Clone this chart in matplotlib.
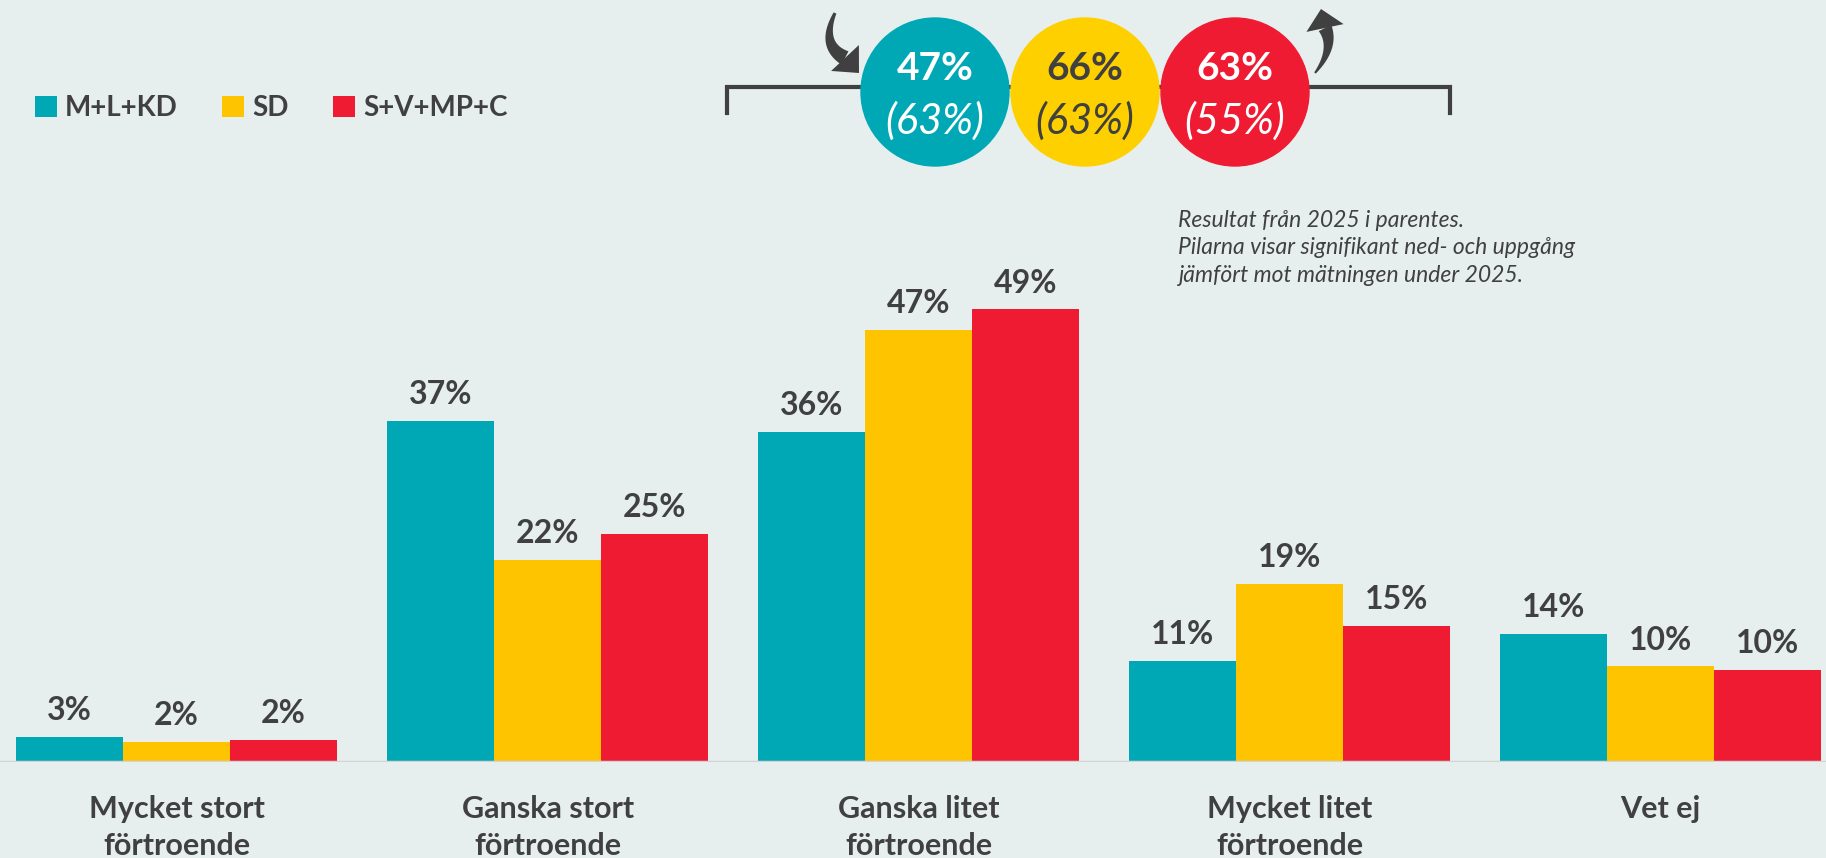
import matplotlib
matplotlib.use("Agg")
import matplotlib.pyplot as plt
import numpy as np
from matplotlib.patches import Circle, Polygon

plt.rcParams["font.family"] = ["Lato", "DejaVu Sans"]

categories = ["Mycket stort\nförtroende", "Ganska stort\nförtroende", "Ganska litet\nförtroende",
              "Mycket litet\nförtroende", "Vet ej"]
series = ["M+L+KD", "SD", "S+V+MP+C"]
ml_kd = [2.7, 37.1, 35.9, 11.0, 13.9]
sd = [2.2, 22.0, 47.0, 19.4, 10.4]
s_v_mp_c = [2.4, 24.8, 49.2, 14.8, 10.0]

circle_now = ["47%", "66%", "63%"]
circle_prev = ["(63%)", "(63%)", "(55%)"]
note = "Resultat från 2025 i parentes.\nPilarna visar signifikant ned- och uppgång\njämfört mot mätningen under 2025."

TEAL, YELLOW, RED = "#00A8B6", "#FFC400", "#EE1B33"
CIRCLE_COLORS = ["#00A8B6", "#FFD000", "#EE1B33"]
CIRCLE_TEXT = ["white", "#404040", "white"]
DARK = "#404040"
BG = "#E6EFEE"

W, H = 1826, 858


def curved_arrow(ax, p0, ctrl, p1, tip, w0, w1, head_w, color):
    # tapered quadratic-bezier shaft plus a triangular head, in pixel coords
    p0, ctrl, p1, tip = (np.asarray(p, float) for p in (p0, ctrl, p1, tip))
    t = np.linspace(0, 1, 40)[:, None]
    pts = (1 - t) ** 2 * p0 + 2 * (1 - t) * t * ctrl + t ** 2 * p1
    d = 2 * (1 - t) * (ctrl - p0) + 2 * t * (p1 - ctrl)
    n = np.column_stack([-d[:, 1], d[:, 0]]) / np.linalg.norm(d, axis=1)[:, None]
    w = (w0 + (w1 - w0) * t) / 2
    shaft = np.vstack([pts + n * w, (pts - n * w)[::-1]])
    ax.add_patch(Polygon(shaft, closed=True, color=color, lw=0, zorder=5))
    u = tip - p1
    nh = np.array([-u[1], u[0]]) / np.linalg.norm(u)
    head = [p1 + nh * head_w / 2, tip, p1 - nh * head_w / 2]
    ax.add_patch(Polygon(head, closed=True, color=color, lw=0, zorder=5))


fig = plt.figure(figsize=(W / 100, H / 100), dpi=100, facecolor=BG)
ax = fig.add_axes([0, 96 / H, 1, 552 / H])
ax.set_facecolor(BG)

x = np.arange(len(categories))
bw = 0.2884
for i, (vals, col) in enumerate(zip([ml_kd, sd, s_v_mp_c], [TEAL, YELLOW, RED])):
    bars = ax.bar(x + (i - 1) * bw, vals, bw, color=col, label=series[i], zorder=2)
    for b, v in zip(bars, vals):
        ax.annotate(f"{v:.0f}%", (b.get_x() + b.get_width() / 2, v), xytext=(0, 12),
                    textcoords="offset points", ha="center", va="baseline",
                    fontsize=23, fontweight="bold", color=DARK)

ax.set_xlim(-0.476, 4.446)
ax.set_ylim(0, 60)
ax.axhline(0, color="#D3D3D3", lw=2.5, zorder=3)
for s in ax.spines.values():
    s.set_visible(False)
ax.set_yticks([])
ax.set_xticks(x)
ax.set_xticklabels(categories, fontsize=22, fontweight="bold", color=DARK, linespacing=1.38)
ax.tick_params(axis="x", length=0, pad=24)

leg = ax.legend(loc="center left", bbox_to_anchor=(35 / W, 1 - 108 / H),
                bbox_transform=fig.transFigure, ncol=3, frameon=False,
                prop={"weight": "bold", "size": 20}, handlelength=0.78, handleheight=0.78,
                handletextpad=0.3, columnspacing=1.6, labelcolor=DARK, borderaxespad=0,
                borderpad=0)

# overlay in pixel coordinates for the summary circles
ov = fig.add_axes([0, 0, 1, 1])
ov.set_xlim(0, W)
ov.set_ylim(H, 0)
ov.axis("off")
ov.patch.set_alpha(0)

ov.plot([727, 727, 1450, 1450], [113, 87, 87, 113], color=DARK, lw=3, solid_joinstyle="miter")
for k in range(3):
    cx = 935 + 150 * k
    ov.add_patch(Circle((cx, 92), 74, color=CIRCLE_COLORS[k], zorder=3))
    ov.text(cx, 68, circle_now[k], ha="center", va="center", fontsize=28,
            fontweight="bold", color=CIRCLE_TEXT[k], zorder=4)
    ov.text(cx, 121, circle_prev[k], ha="center", va="center", fontsize=30,
            style="italic", color=CIRCLE_TEXT[k], zorder=4)

curved_arrow(ov, (835, 13), (820, 45), (845, 58), (859, 73), 3, 15, 38, DARK)
curved_arrow(ov, (1315, 73), (1335, 48), (1325, 28), (1321, 9), 2, 14, 38, DARK)

ov.text(1178, 210, note, ha="left", va="top", fontsize=16.5, style="italic",
        color=DARK, linespacing=1.38)

fig.savefig("out.png", dpi=100, facecolor=BG)
